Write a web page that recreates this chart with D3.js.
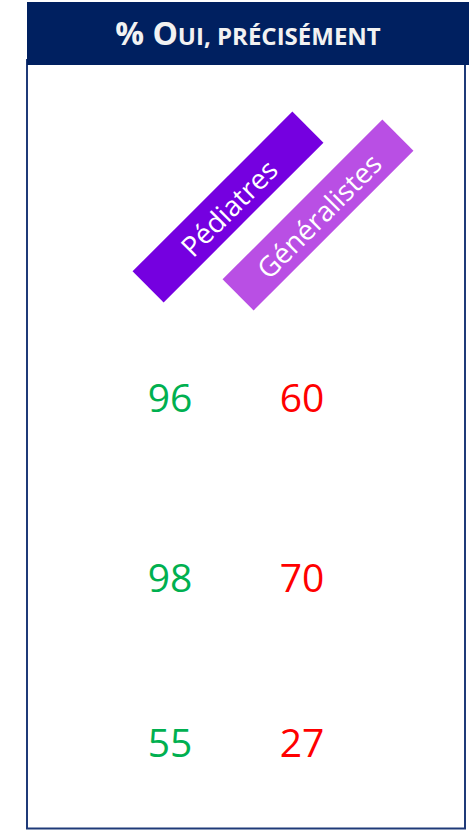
<!DOCTYPE html>
<html>
<head>
<meta charset="utf-8">
<script src="https://cdn.jsdelivr.net/npm/d3@7"></script>
<style>
  html, body { margin: 0; padding: 0; background: #fff; }
  svg { display: block; }
</style>
</head>
<body>
<div id="chart"></div>
<script>
// données du graphique
const titleParts = [
  { text: "% O", big: true },
  { text: "UI, ", big: false },
  { text: "PRÉCISÉMENT", big: false }
];
const groups = ["Pédiatres", "Généralistes"];
const pediatres = [96, 98, 55];
const generalistes = [60, 70, 27];
const rows = [0, 1, 2];

const width = 474, height = 830;
const svg = d3.select("#chart").append("svg")
  .attr("width", width)
  .attr("height", height);

// cadre
svg.append("rect")
  .attr("x", 27)
  .attr("y", 60)
  .attr("width", 438)
  .attr("height", 768.5)
  .attr("fill", "#fff")
  .attr("stroke", "#1F3A78")
  .attr("stroke-width", 2);

// bandeau du titre
svg.append("rect")
  .attr("x", 27)
  .attr("y", 2)
  .attr("width", 442)
  .attr("height", 63)
  .attr("fill", "#002060");

const title = svg.append("text")
  .attr("x", 248)
  .attr("y", 45)
  .attr("text-anchor", "middle")
  .style("font-family", "'Open Sans', sans-serif")
  .style("font-weight", "bold")
  .style("fill", "#F2F2F2");

title.selectAll("tspan")
  .data(titleParts)
  .enter()
  .append("tspan")
  .style("font-size", d => d.big ? "32px" : "24px")
  .text(d => d.text);

// étiquettes inclinées
const labelX = d3.scalePoint().domain(groups).range([228, 318]);
const labelY = d3.scalePoint().domain(groups).range([207, 215]);
const labelColor = d3.scaleOrdinal().domain(groups).range(["#7500E0", "#B94FE4"]);

const labels = svg.selectAll("g.label")
  .data(groups)
  .enter()
  .append("g")
  .attr("class", "label")
  .attr("transform", d => `translate(${labelX(d)}, ${labelY(d)}) rotate(-45)`);

labels.append("rect")
  .attr("x", -113)
  .attr("y", -22)
  .attr("width", 226)
  .attr("height", 44)
  .attr("fill", d => labelColor(d));

labels.append("text")
  .attr("text-anchor", "middle")
  .attr("y", 2)
  .attr("dy", "0.35em")
  .style("font-family", "'Open Sans', sans-serif")
  .style("font-size", "28px")
  .style("fill", "#fff")
  .text(d => d);

// valeurs
const colX = d3.scalePoint().domain(groups).range([170, 302]);
const rowY = d3.scaleOrdinal().domain(rows).range([398, 578, 743]);
const valueColor = d3.scaleOrdinal().domain(groups).range(["#00B050", "#FF0000"]);

const cells = [];
rows.forEach(function (r) {
  cells.push({ group: groups[0], row: r, value: pediatres[r] });
  cells.push({ group: groups[1], row: r, value: generalistes[r] });
});

svg.selectAll("text.value")
  .data(cells)
  .enter()
  .append("text")
  .attr("class", "value")
  .attr("x", d => colX(d.group))
  .attr("y", d => rowY(d.row))
  .attr("dy", "0.35em")
  .attr("text-anchor", "middle")
  .style("font-family", "'Open Sans', sans-serif")
  .style("font-size", "39px")
  .style("fill", d => valueColor(d.group))
  .text(d => d.value);
</script>
</body>
</html>
